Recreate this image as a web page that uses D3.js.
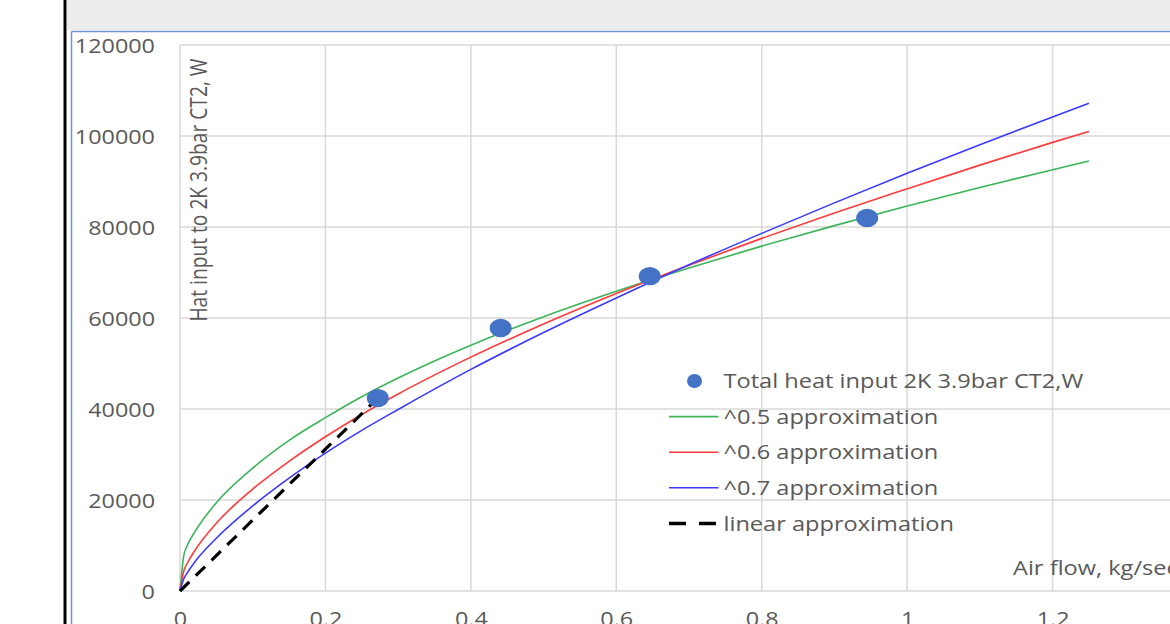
<!DOCTYPE html>
<html lang="en">
<head>
<meta charset="UTF-8">
<title>Heat input vs air flow</title>
<script src="https://cdn.jsdelivr.net/npm/d3@7/dist/d3.min.js"></script>
<style>
  body { margin: 0; background: #fff; }
  text { font-family: "Open Sans", "DejaVu Sans", sans-serif; fill: #595959; }
</style>
</head>
<body>
<script>
// values
var xTicks = [0, 0.2, 0.4, 0.6, 0.8, 1, 1.2, 1.4];
var yTicks = [0, 20000, 40000, 60000, 80000, 100000, 120000];

var curveX = [0, 0.005, 0.01, 0.02, 0.05, 0.1, 0.15, 0.2, 0.25, 0.3, 0.4, 0.5, 0.6, 0.7, 0.8, 0.9, 1.0, 1.1, 1.2, 1.25];
var pow05 = [0, 7600, 10000, 12900, 19400, 27000, 33100, 38100, 42700, 46800, 54000, 60300, 65900, 71000, 75800, 80300, 84600, 88700, 92600, 94500];
var pow06 = [0, 4300, 6100, 8800, 14900, 22400, 28500, 33900, 38800, 43300, 51400, 58700, 65400, 71600, 77500, 83100, 88400, 93600, 98600, 101000];
var pow07 = [0, 2600, 4000, 6300, 11600, 18700, 24800, 30300, 35300, 39900, 48700, 56800, 64400, 71700, 78600, 85300, 91800, 98100, 104200, 107200];

var linX = [0, 0.272];
var linY = [0, 42400];

var dotX = [0.272, 0.441, 0.646, 0.945];
var dotY = [42400, 57800, 69200, 82000];

var legendNames = ["Total heat input 2K 3.9bar CT2,W", "^0.5 approximation", "^0.6 approximation", "^0.7 approximation", "linear approximation"];

(function () {
    var W = 1170, H = 624;
    var stretch = 1.2; // screenshot is a bit wider than tall

    var svg = d3.select("body").append("svg")
        .attr("width", W)
        .attr("height", H);

    // window chrome around the chart
    svg.append("rect").attr("x", 67).attr("y", 0).attr("width", W).attr("height", 30).attr("fill", "#ececec");
    svg.append("rect").attr("x", 63.5).attr("y", 0).attr("width", 3).attr("height", H).attr("fill", "#000");
    svg.append("line").attr("x1", 71.5).attr("x2", W).attr("y1", 31.5).attr("y2", 31.5)
        .attr("stroke", "#6b93d6").attr("stroke-width", 1.5);
    svg.append("line").attr("x1", 71.5).attr("x2", 71.5).attr("y1", 31.5).attr("y2", H)
        .attr("stroke", "#6b93d6").attr("stroke-width", 1.5);

    var x = d3.scaleLinear().domain([0, 1.4]).range([180, 1198]);
    var y = d3.scaleLinear().domain([0, 120000]).range([591, 45]);

    // grid
    var grid = svg.append("g").attr("stroke", "#d9d9d9").attr("stroke-width", 1.5);
    grid.selectAll(".gx").data(xTicks).enter().append("line")
        .attr("x1", function (d) { return x(d); })
        .attr("x2", function (d) { return x(d); })
        .attr("y1", y(120000)).attr("y2", y(0));
    grid.selectAll(".gy").data(yTicks).enter().append("line")
        .attr("x1", x(0)).attr("x2", W)
        .attr("y1", function (d) { return y(d); })
        .attr("y2", function (d) { return y(d); });

    // axes (labels only)
    var yAxis = svg.append("g").attr("transform", "translate(" + x(0) + ",0)")
        .call(d3.axisLeft(y).tickValues(yTicks).tickFormat(d3.format("d")).tickSize(0));
    yAxis.select(".domain").remove();
    yAxis.selectAll("text")
        .attr("x", 0).attr("dy", "0.36em")
        .attr("transform", "translate(-25,0) scale(" + stretch + ",1)")
        .style("font-size", "19.5px").style("fill", "#595959")
        .style("font-family", "'Open Sans', sans-serif");

    // bottom labels sit partly below the window edge, as in the screenshot
    var xAxis = svg.append("g").attr("transform", "translate(0," + y(0) + ")")
        .call(d3.axisBottom(x).tickValues(xTicks).tickFormat(function (d) { return String(d); }).tickSize(0));
    xAxis.select(".domain").remove();
    xAxis.selectAll("text")
        .attr("y", 0).attr("dy", 0)
        .attr("transform", "translate(0,35) scale(" + stretch + ",1)")
        .style("font-size", "19.5px").style("fill", "#595959")
        .style("font-family", "'Open Sans', sans-serif");

    // series
    var series = [
        { vals: pow05, color: "#3cb55a" },
        { vals: pow06, color: "#ff3b3b" },
        { vals: pow07, color: "#3a3aff" }
    ];
    var line = d3.line()
        .x(function (d) { return x(d[0]); })
        .y(function (d) { return y(d[1]); })
        .curve(d3.curveMonotoneX);

    series.forEach(function (s) {
        svg.append("path")
            .datum(d3.zip(curveX, s.vals))
            .attr("fill", "none")
            .attr("stroke", s.color)
            .attr("stroke-width", 1.6)
            .attr("d", line);
    });

    svg.append("path")
        .datum(d3.zip(linX, linY))
        .attr("fill", "none")
        .attr("stroke", "#000")
        .attr("stroke-width", 3.2)
        .attr("stroke-dasharray", "13,9")
        .attr("d", d3.line().x(function (d) { return x(d[0]); }).y(function (d) { return y(d[1]); }));

    svg.selectAll(".dot").data(d3.zip(dotX, dotY)).enter().append("ellipse")
        .attr("cx", function (d) { return x(d[0]); })
        .attr("cy", function (d) { return y(d[1]); })
        .attr("rx", 11).attr("ry", 9.2)
        .attr("fill", "#4472c4");

    // legend
    var lg = svg.append("g").attr("transform", "translate(669,381)");
    var rows = lg.selectAll("g").data(legendNames).enter().append("g")
        .attr("transform", function (d, i) { return "translate(0," + (i * 35.6) + ")"; });

    rows.each(function (d, i) {
        var r = d3.select(this);
        if (i === 0) {
            r.append("ellipse").attr("cx", 25.5).attr("cy", 0).attr("rx", 7.5).attr("ry", 7).attr("fill", "#4472c4");
        } else {
            r.append("line").attr("x1", 0).attr("x2", 49.5).attr("y1", 0).attr("y2", 0)
                .attr("stroke", i === 4 ? "#000" : series[i - 1].color)
                .attr("stroke-width", i === 4 ? 3.5 : 1.6)
                .attr("stroke-dasharray", i === 4 ? "17,13" : null);
        }
        r.append("g")
            .attr("transform", "translate(54.5,0) scale(1.18,1)")
            .append("text")
            .attr("dy", "0.36em")
            .style("font-size", "20px")
            .text(d);
    });

    // axis titles
    svg.append("g")
        .attr("transform", "translate(1013,568) scale(1.18,1)")
        .append("text")
        .attr("dy", "0.36em")
        .style("font-size", "20px")
        .text("Air flow, kg/sec");

    svg.append("g")
        .attr("transform", "translate(207,190) scale(" + stretch + ",1) rotate(-90)")
        .append("text")
        .attr("text-anchor", "middle")
        .style("font-size", "19.2px")
        .text("Hat input to 2K 3.9bar CT2, W");
})();
</script>
</body>
</html>
